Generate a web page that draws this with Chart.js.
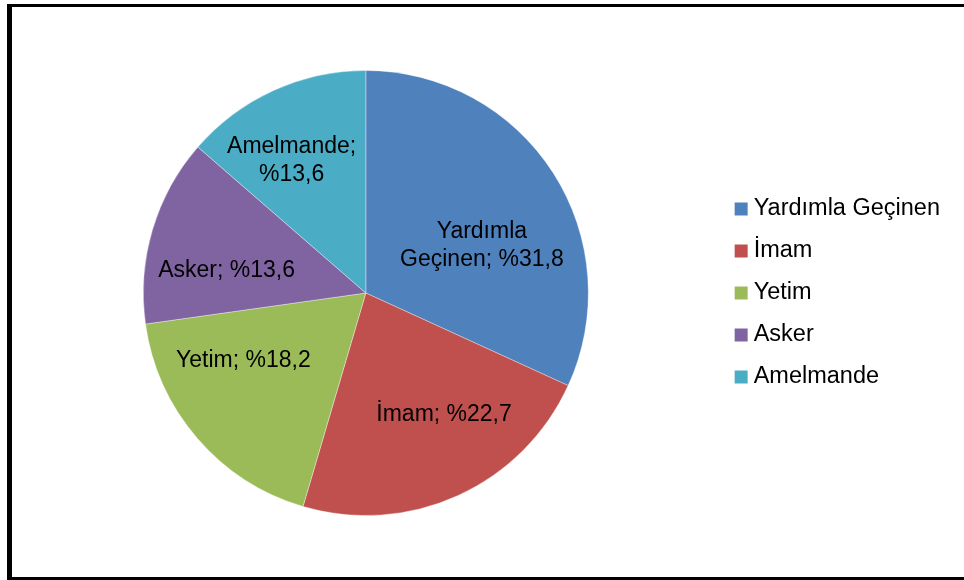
<!DOCTYPE html>
<html>
<head>
<meta charset="utf-8">
<script src="https://cdn.jsdelivr.net/npm/chart.js@4"></script>
<style>
  html, body { margin: 0; padding: 0; background: #ffffff; overflow: hidden; }
  body { width: 964px; height: 580px; position: relative; }
  #frame {
    position: absolute; left: 7px; top: 4px; width: 1000px; height: 570px;
    border-left: 5px solid #000; border-top: 3px solid #000; border-bottom: 3px solid #000;
  }
  #c { position: absolute; left: 0; top: 0; }
</style>
</head>
<body>
<div id="frame"></div>
<canvas id="c" width="964" height="580"></canvas>
<script>
// ---- data ----
const categories = ['Yardımla Geçinen', 'İmam', 'Yetim', 'Asker', 'Amelmande'];
const percentages = [31.8, 22.7, 18.2, 13.6, 13.6];
const sliceColors = ['#4F81BD', '#C0504D', '#9BBB59', '#8064A2', '#4BACC6'];

// ---- label styling (not data) ----
const labelWrap = ['afterFirstWord', 'none', 'none', 'none', 'beforeValue'];
const labelNudge = [[0, 27], [21, -4], [-18, -23], [-7, 17], [-17, -7]];
const FONT = "'Liberation Sans', Arial, sans-serif";

function fmtPct(v) { return '%' + v.toFixed(1).replace('.', ','); }
function labelLines(i) {
  const name = categories[i], val = fmtPct(percentages[i]);
  if (labelWrap[i] === 'afterFirstWord') {
    const parts = name.split(' ');
    return [parts[0], parts.slice(1).join(' ') + '; ' + val];
  }
  if (labelWrap[i] === 'beforeValue') return [name + ';', val];
  return [name + '; ' + val];
}

const sliceLabels = {
  id: 'sliceLabels',
  afterDatasetsDraw(chart) {
    const ctx = chart.ctx;
    const meta = chart.getDatasetMeta(0);
    ctx.save();
    ctx.font = '23px ' + FONT;
    ctx.fillStyle = '#000';
    ctx.textAlign = 'center';
    ctx.textBaseline = 'middle';
    meta.data.forEach((arc, i) => {
      const p = arc.getProps(['x', 'y', 'startAngle', 'endAngle', 'outerRadius'], true);
      const mid = (p.startAngle + p.endAngle) / 2;
      const r = p.outerRadius * 0.62;
      const cx = p.x + Math.cos(mid) * r + labelNudge[i][0];
      const cy = p.y + Math.sin(mid) * r + labelNudge[i][1];
      const lines = labelLines(i);
      const lh = 28;
      lines.forEach((t, k) => {
        ctx.fillText(t, cx, cy + (k - (lines.length - 1) / 2) * lh);
      });
    });
    ctx.restore();
  }
};

const baseGen = (Chart.overrides.pie && Chart.overrides.pie.plugins && Chart.overrides.pie.plugins.legend &&
                 Chart.overrides.pie.plugins.legend.labels.generateLabels) ||
                Chart.overrides.doughnut.plugins.legend.labels.generateLabels;

new Chart(document.getElementById('c'), {
  type: 'pie',
  data: {
    labels: categories,
    datasets: [{
      data: percentages,
      backgroundColor: sliceColors,
      borderColor: 'rgba(255,255,255,0.35)',
      borderWidth: 1,
      hoverOffset: 0
    }]
  },
  options: {
    responsive: false,
    animation: false,
    layout: { padding: { top: 70, bottom: 64, left: 9.75, right: 14 } },
    plugins: {
      tooltip: { enabled: false },
      legend: {
        position: 'right',
        align: 'center',
        labels: {
          font: { family: FONT, size: 23.5 },
          color: '#000',
          usePointStyle: true,
          pointStyle: 'rect',
          boxWidth: 1.5,
          boxHeight: 13,
          padding: 18.5,
          generateLabels(chart) {
            return baseGen(chart).map(it => Object.assign(it, { lineWidth: 0 }));
          }
        }
      }
    }
  },
  plugins: [sliceLabels]
});
</script>
</body>
</html>
